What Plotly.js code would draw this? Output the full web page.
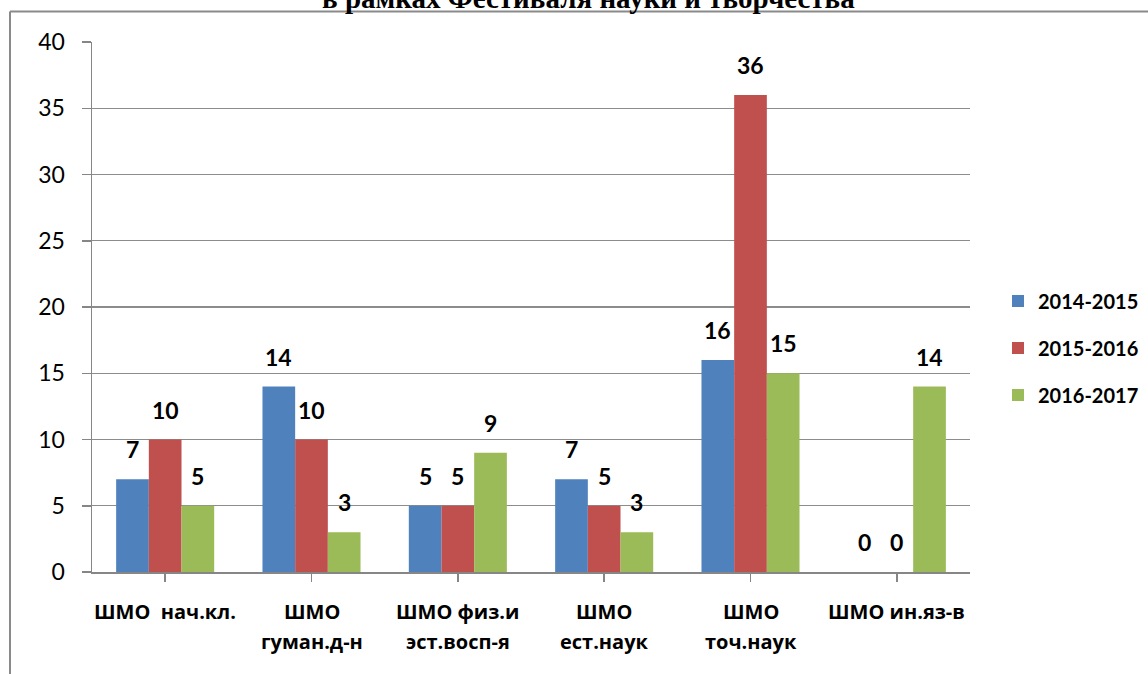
<!DOCTYPE html>
<html>
<head>
<meta charset="utf-8">
<script src="https://cdn.plot.ly/plotly-3.0.1.min.js"></script>
<style>html,body{margin:0;padding:0;background:#fff;}#chart{width:1148px;height:674px;}</style>
</head>
<body>
<div id="chart"></div>
<script>
// ---- data ----
const categories = ['ШМО\u00a0\u00a0нач.кл.', 'ШМО<br>гуман.д-н', 'ШМО физ.и<br>эст.восп-я', 'ШМО<br>ест.наук', 'ШМО<br>точ.наук', 'ШМО ин.яз-в'];
const seriesNames = ['2014-2015', '2015-2016', '2016-2017'];
const values2014 = [7, 14, 5, 7, 16, 0];
const values2015 = [10, 10, 5, 5, 36, 0];
const values2016 = [5, 3, 9, 3, 15, 14];
const yTicks = [0, 5, 10, 15, 20, 25, 30, 35, 40];
const titleText = 'в рамках Фестиваля науки и творчества';

const seriesValues = [values2014, values2015, values2016];
const colors = ['#4F81BD', '#C0504D', '#9BBB59'];
const bargap = 0.33;
const barW = (1 - bargap) / 3;
const idx = categories.map((c, i) => i);

const traces = seriesValues.map((vals, j) => ({
  type: 'bar',
  name: seriesNames[j],
  x: idx,
  y: vals,
  marker: {color: colors[j], line: {width: 0}},
  legendgroup: 'g' + j,
  hoverinfo: 'y'
}));

const annotations = [];
// bar value labels
seriesValues.forEach((vals, j) => {
  vals.forEach((v, i) => {
    annotations.push({
      xref: 'x', yref: 'y', x: i + (j - 1) * barW, y: v,
      text: String(v), showarrow: false, yanchor: 'bottom', yshift: 14,
      font: {family: 'Lato', size: 23, color: '#000', weight: 'bold'}
    });
  });
});
// category labels (two lines, custom spacing)
categories.forEach((c, i) => {
  c.split('<br>').forEach((line, k) => {
    annotations.push({
      xref: 'x', yref: 'paper', x: i, y: 0,
      text: line, showarrow: false, yanchor: 'middle', yshift: -(39 + 30 * k),
      font: {family: 'Open Sans', size: 20, color: '#000', weight: 'bold'}
    });
  });
});
// clipped title
annotations.push({
  xref: 'paper', yref: 'paper', x: (588 - 92) / 878, y: 1, yshift: 44,
  text: '<b>' + titleText + '</b>', showarrow: false, yanchor: 'middle',
  font: {family: 'Liberation Serif', size: 29, color: '#000'}
});

const frameColor = '#8a8a8a';
const shapes = [
  {type: 'line', xref: 'paper', yref: 'paper', x0: (10 - 92) / 878, x1: (1160 - 92) / 878, y0: (572 - 11.5) / 530, y1: (572 - 11.5) / 530, line: {color: frameColor, width: 2}},
  {type: 'line', xref: 'paper', yref: 'paper', x0: (10 - 92) / 878, x1: (10 - 92) / 878, y0: (572 - 11.5) / 530, y1: (572 - 690) / 530, line: {color: frameColor, width: 2}}
];

const layout = {
  width: 1148, height: 674,
  margin: {l: 92, r: 178, t: 42, b: 102, autoexpand: false},
  paper_bgcolor: '#fff', plot_bgcolor: '#fff',
  barmode: 'group', bargap: bargap, bargroupgap: 0,
  showlegend: true,
  legend: {
    x: 1 + (998 - 970) / 878, y: (572 - 348) / 530, xanchor: 'left', yanchor: 'middle',
    font: {family: 'Lato', size: 20, color: '#000', weight: 'bold'},
    traceorder: 'grouped', tracegroupgap: 18, itemclick: false
  },
  xaxis: {
    range: [-0.5, 5.5], tickvals: idx, showticklabels: false,
    ticks: 'outside', tickson: 'boundaries', ticklen: 8, tickcolor: '#868686', tickwidth: 1.5,
    showline: true, linecolor: '#868686', linewidth: 1.5, showgrid: false, zeroline: false, fixedrange: true
  },
  yaxis: {
    range: [0, 40], tickvals: yTicks, ticks: 'outside', ticklen: 9, tickcolor: '#868686', tickwidth: 1.5,
    showline: true, linecolor: '#868686', linewidth: 1.5,
    showgrid: true, gridcolor: '#8c8c8c', gridwidth: 1.3, zeroline: false,
    tickfont: {family: 'Lato', size: 23, color: '#000'}, ticklabelstandoff: 12, fixedrange: true
  },
  annotations: annotations,
  shapes: shapes
};

Plotly.newPlot('chart', traces, layout, {displayModeBar: false, staticPlot: true});
</script>
</body>
</html>
